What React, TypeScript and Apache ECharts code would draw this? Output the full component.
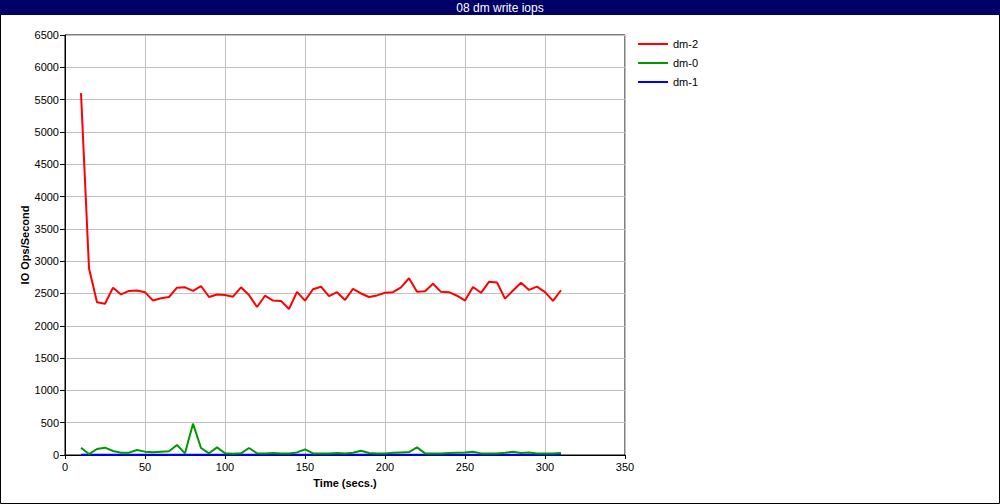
import React, { useEffect, useRef } from "react";
import * as echarts from "echarts";

const times: number[] = [
  10, 15, 20, 25, 30, 35, 40, 45, 50, 55, 60, 65, 70, 75, 80, 85, 90, 95, 100, 105,
  110, 115, 120, 125, 130, 135, 140, 145, 150, 155, 160, 165, 170, 175, 180, 185, 190, 195, 200, 205,
  210, 215, 220, 225, 230, 235, 240, 245, 250, 255, 260, 265, 270, 275, 280, 285, 290, 295, 300, 305, 310,
];

const dm2: number[] = [
  5600, 2890, 2365, 2340, 2590, 2485, 2540, 2545, 2520, 2390, 2425, 2445, 2590, 2595, 2540, 2615, 2445, 2485, 2475, 2450,
  2595, 2475, 2290, 2465, 2390, 2385, 2260, 2525, 2390, 2565, 2605, 2460, 2520, 2400, 2570, 2500, 2445, 2470, 2510, 2520,
  2595, 2735, 2525, 2535, 2650, 2525, 2520, 2465, 2390, 2600, 2510, 2680, 2670, 2420, 2545, 2665, 2555, 2605, 2520, 2385, 2550,
];

const dm0: number[] = [
  113, 15, 93, 113, 62, 36, 36, 77, 52, 41, 52, 57, 155, 26, 485, 108, 26, 118, 26, 21,
  26, 108, 26, 25, 30, 25, 25, 40, 88, 25, 25, 25, 30, 25, 35, 67, 30, 25, 25, 35,
  40, 45, 118, 25, 25, 25, 30, 35, 40, 50, 25, 25, 25, 35, 50, 30, 40, 25, 25, 25, 30,
];

const dm1: number[] = [
  2, 2, 2, 2, 2, 2, 2, 2, 2, 2, 2, 2, 2, 2, 2, 2, 2, 2, 2, 2,
  2, 2, 2, 2, 2, 2, 2, 2, 2, 2, 2, 2, 2, 2, 2, 2, 2, 2, 2, 2,
  2, 2, 2, 2, 2, 2, 2, 2, 2, 2, 2, 2, 2, 2, 2, 2, 2, 2, 2, 2, 2,
];

const seriesNames = ["dm-2", "dm-0", "dm-1"];
const titleText = "08 dm write iops";
const xName = "Time (secs.)";
const yName = "IO Ops/Second";

const FONT = "'Liberation Sans', Arial, sans-serif";

export default function App() {
  const ref = useRef<HTMLDivElement>(null);

  useEffect(() => {
    document.body.style.margin = "0";
    if (!ref.current) return;
    const chart = echarts.init(ref.current, undefined, { renderer: "svg" });
    const pair = (vals: number[]) => times.map((t, i) => [t, vals[i]]);
    chart.setOption({
      animation: false,
      backgroundColor: "#ffffff",
      textStyle: { fontFamily: FONT },
      graphic: [
        {
          type: "rect",
          shape: { x: 0.5, y: 0.5, width: 999, height: 503 },
          style: { fill: "none", stroke: "#000000", lineWidth: 1 },
          z: 100,
        },
        {
          type: "rect",
          shape: { x: 0, y: 0, width: 1000, height: 15 },
          style: { fill: "#000066" },
          z: 101,
        },
        {
          type: "text",
          x: 500,
          y: 8,
          style: {
            text: titleText,
            fill: "#ffffff",
            font: `12px ${FONT}`,
            textAlign: "center",
            textVerticalAlign: "middle",
          },
          z: 102,
        },
      ],
      legend: {
        orient: "vertical",
        left: 638,
        top: 37,
        padding: 0,
        icon: "rect",
        itemWidth: 30,
        itemHeight: 2,
        itemGap: 5,
        data: seriesNames,
        textStyle: { fontSize: 11, color: "#000", fontFamily: FONT, lineHeight: 14 },
      },
      grid: {
        left: 65,
        top: 35,
        width: 560,
        height: 420,
        show: true,
        borderColor: "#000",
        borderWidth: 1,
        backgroundColor: "transparent",
      },
      xAxis: {
        type: "value",
        min: 0,
        max: 350,
        interval: 50,
        name: xName,
        nameLocation: "middle",
        nameGap: 22,
        nameMoveOverlap: false,
        nameTextStyle: { fontWeight: "bold", fontSize: 11, color: "#000", fontFamily: FONT },
        axisLine: { lineStyle: { color: "#000", width: 1 } },
        axisTick: { show: true, length: 4, lineStyle: { color: "#000" } },
        axisLabel: { fontSize: 11, color: "#000", margin: 6, fontFamily: FONT },
        splitLine: { show: true, lineStyle: { color: "#c0c0c0", width: 1 } },
      },
      yAxis: {
        type: "value",
        min: 0,
        max: 6500,
        interval: 500,
        name: yName,
        nameLocation: "middle",
        nameGap: 35,
        nameMoveOverlap: false,
        nameRotate: 90,
        nameTextStyle: { fontWeight: "bold", fontSize: 11, color: "#000", fontFamily: FONT },
        axisLine: { show: true, lineStyle: { color: "#000", width: 1 } },
        axisTick: { show: true, length: 5, lineStyle: { color: "#000" } },
        axisLabel: {
          fontSize: 11,
          color: "#000",
          margin: 6,
          fontFamily: FONT,
          formatter: (v: number) => String(v),
        },
        splitLine: { show: true, lineStyle: { color: "#c0c0c0", width: 1 } },
      },
      series: [
        {
          name: "dm-1",
          type: "line",
          data: pair(dm1),
          symbol: "none",
          lineStyle: { color: "#0000ff", width: 2 },
          itemStyle: { color: "#0000ff" },
          z: 2,
        },
        {
          name: "dm-0",
          type: "line",
          data: pair(dm0),
          symbol: "none",
          lineStyle: { color: "#009900", width: 2 },
          itemStyle: { color: "#009900" },
          z: 3,
        },
        {
          name: "dm-2",
          type: "line",
          data: pair(dm2),
          symbol: "none",
          lineStyle: { color: "#ff0000", width: 2 },
          itemStyle: { color: "#ff0000" },
          z: 4,
        },
      ],
    });
    return () => chart.dispose();
  }, []);

  return <div ref={ref} style={{ width: 1000, height: 504 }} />;
}
